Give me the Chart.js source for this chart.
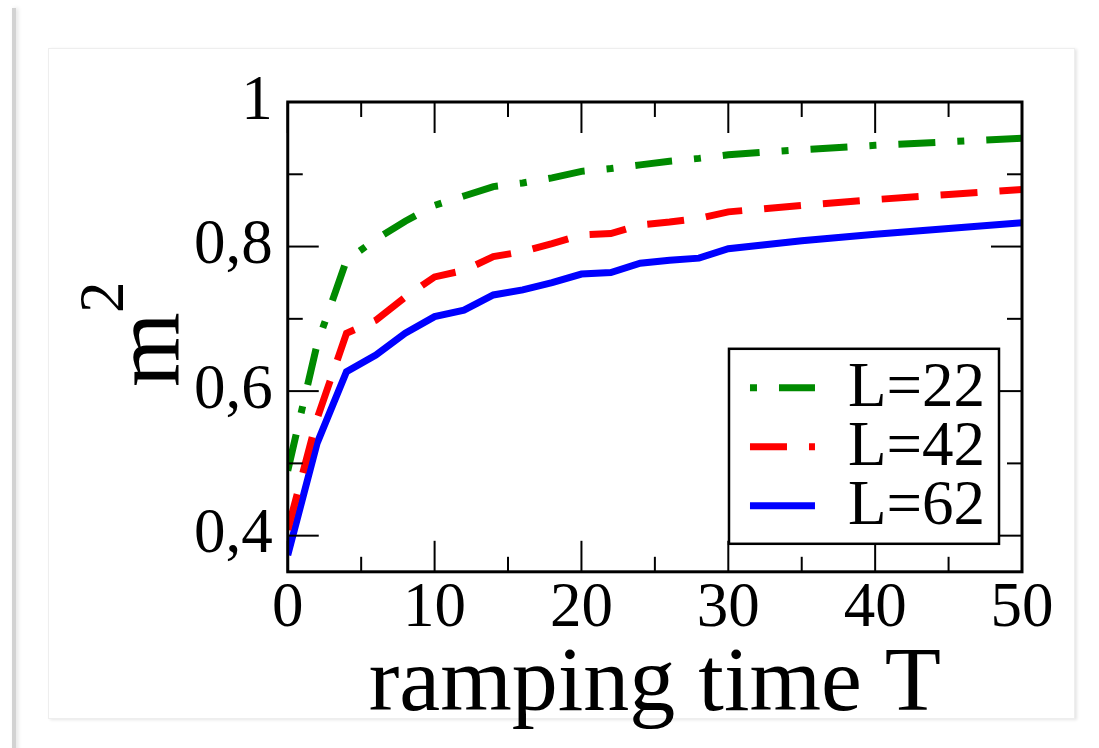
<!DOCTYPE html>
<html>
<head>
<meta charset="utf-8">
<script src="https://cdn.jsdelivr.net/npm/chart.js@4.4.1/dist/chart.umd.min.js"></script>
<style>
  html, body { margin: 0; padding: 0; background: #fff; }
  body { width: 1099px; height: 748px; position: relative; overflow: hidden; }
  #edge { position: absolute; left: 12px; top: 8px; width: 4px; height: 760px; background: #d2d2d2; box-shadow: 2px 0 4px rgba(0,0,0,0.12); }
  #card { position: absolute; left: 48px; top: 48px; width: 1025px; height: 669px; border: 1px solid #eeeeee; box-shadow: 2px 1px 3px rgba(0,0,0,0.10); background: #fff; }
  #wrap { position: absolute; left: 0; top: 0; width: 1099px; height: 748px; }
</style>
</head>
<body>
<div id="edge"></div>
<div id="card"></div>
<div id="wrap"><canvas id="chart" width="1099" height="748"></canvas></div>
<script>
const ramp_times = [0, 2, 4, 6, 8, 10, 12, 14, 16, 18, 20, 22, 24, 26, 28, 30, 35, 40, 45, 50];
const m2_L22 = [0.490, 0.665, 0.781, 0.810, 0.835, 0.857, 0.870, 0.883, 0.888, 0.895, 0.904, 0.908, 0.913, 0.918, 0.922, 0.927, 0.934, 0.940, 0.945, 0.950];
const m2_L42 = [0.408, 0.562, 0.680, 0.698, 0.730, 0.758, 0.767, 0.786, 0.793, 0.804, 0.816, 0.818, 0.830, 0.834, 0.839, 0.848, 0.857, 0.865, 0.872, 0.879];
const m2_L62 = [0.373, 0.528, 0.627, 0.650, 0.680, 0.703, 0.712, 0.733, 0.740, 0.750, 0.762, 0.764, 0.777, 0.781, 0.784, 0.797, 0.808, 0.817, 0.825, 0.833];

const series_labels = ["L=22", "L=42", "L=62"];
const x_ticks = [0, 10, 20, 30, 40, 50];
const x_minor = [5, 15, 25, 35, 45];
const y_ticks = [0.4, 0.6, 0.8, 1.0];
const y_minor = [0.5, 0.7, 0.9];

const serif = "'Liberation Serif', 'DejaVu Serif', serif";

function to_points(values){
    return ramp_times.map((t, i) => ({x: t, y: values[i]}));
}

function line_set(label, values, color, dash, dash_offset){
    return {
        label: label,
        data: to_points(values),
        borderColor: color,
        backgroundColor: color,
        borderWidth: 7,
        borderDash: dash,
        legendDashOffset: dash_offset,
        borderCapStyle: 'butt',
        borderJoinStyle: 'miter',
        pointRadius: 0,
        tension: 0,
        fill: false
    };
}

let datasets = {
    datasets: [
        line_set(series_labels[0], m2_L22, '#008a00', [37, 22, 7, 22], 59),
        line_set(series_labels[1], m2_L42, '#ff0000', [37, 22], 0),
        line_set(series_labels[2], m2_L62, '#0000ff', [], 0),
    ]
};

function draw_line(ctx, x1, y1, x2, y2){
    ctx.beginPath();
    ctx.moveTo(x1, y1);
    ctx.lineTo(x2, y2);
    ctx.stroke();
}

// frame, inward ticks on all sides, legend box and y title
const grace_frame = {
    id: 'grace_frame',
    afterDatasetsDraw(chart){
        const ctx = chart.ctx;
        const a = chart.chartArea;
        const xs = chart.scales.x;
        const ys = chart.scales.y;
        ctx.save();
        ctx.strokeStyle = '#000';
        ctx.lineWidth = 2;
        ctx.setLineDash([]);
        x_ticks.forEach(v => {
            const px = xs.getPixelForValue(v);
            draw_line(ctx, px, a.bottom, px, a.bottom - 31);
            draw_line(ctx, px, a.top, px, a.top + 31);
        });
        x_minor.forEach(v => {
            const px = xs.getPixelForValue(v);
            draw_line(ctx, px, a.bottom, px, a.bottom - 15);
            draw_line(ctx, px, a.top, px, a.top + 15);
        });
        y_ticks.forEach(v => {
            const py = ys.getPixelForValue(v);
            draw_line(ctx, a.left, py, a.left + 31, py);
            draw_line(ctx, a.right, py, a.right - 31, py);
        });
        y_minor.forEach(v => {
            const py = ys.getPixelForValue(v);
            draw_line(ctx, a.left, py, a.left + 15, py);
            draw_line(ctx, a.right, py, a.right - 15, py);
        });
        ctx.lineWidth = 3;
        ctx.strokeRect(a.left, a.top, a.right - a.left, a.bottom - a.top);

        // legend
        ctx.font = '63px ' + serif;
        const sets = chart.data.datasets;
        let text_w = 0;
        sets.forEach(ds => { text_w = Math.max(text_w, ctx.measureText(ds.label).width); });
        const row_h = 59;
        const box_w = 21 + 65 + 33 + text_w + 14;
        const box_h = 39 + row_h * (sets.length - 1) + 38;
        const bx = a.right - 23 - box_w;
        const by = a.bottom - 28 - box_h;
        ctx.fillStyle = '#fff';
        ctx.fillRect(bx, by, box_w, box_h);
        ctx.lineWidth = 2.5;
        ctx.strokeRect(bx, by, box_w, box_h);
        sets.forEach((ds, i) => {
            const cy = by + 39 + i * row_h;
            ctx.strokeStyle = ds.borderColor;
            ctx.lineWidth = 7;
            ctx.lineCap = 'butt';
            ctx.setLineDash(ds.borderDash);
            ctx.lineDashOffset = ds.legendDashOffset;
            draw_line(ctx, bx + 21, cy, bx + 21 + 65, cy);
            ctx.setLineDash([]);
            ctx.lineDashOffset = 0;
            ctx.fillStyle = '#000';
            ctx.textAlign = 'left';
            ctx.textBaseline = 'middle';
            ctx.fillText(ds.label, bx + 21 + 65 + 33, cy + 2);
        });

        // y axis title m^2
        ctx.translate(a.left - 110, (a.top + a.bottom) / 2 + 50);
        ctx.rotate(-Math.PI / 2);
        ctx.fillStyle = '#000';
        ctx.textAlign = 'left';
        ctx.textBaseline = 'alphabetic';
        ctx.font = '96px ' + serif;
        ctx.fillText('m', 0, 0);
        ctx.font = '63px ' + serif;
        ctx.fillText('2', 74, -55);
        ctx.restore();
    }
};

let options = {
    responsive: false,
    animation: false,
    devicePixelRatio: 1,
    layout: {
        padding: {left: 179, right: 77, top: 102, bottom: 23}
    },
    scales: {
        x: {
            type: 'linear',
            position: 'bottom',
            min: 0,
            max: 50,
            afterBuildTicks: s => { s.ticks = x_ticks.map(v => ({value: v})); },
            grid: {display: false, drawTicks: false},
            border: {display: false},
            ticks: {
                color: '#000',
                padding: 6,
                maxRotation: 0,
                autoSkip: false,
                font: {family: serif, size: 63, lineHeight: 1}
            },
            title: {
                display: true,
                text: 'ramping time T',
                color: '#000',
                padding: {top: 0, bottom: 0},
                font: {family: serif, size: 92, lineHeight: 0.85}
            }
        },
        y: {
            type: 'linear',
            min: 0.35,
            max: 1.0,
            afterBuildTicks: s => { s.ticks = y_ticks.map(v => ({value: v})); },
            grid: {display: false, drawTicks: false},
            border: {display: false},
            ticks: {
                color: '#000',
                padding: 15,
                font: {family: serif, size: 63, lineHeight: 1},
                callback: v => (v === 1 ? '1' : v.toFixed(1).replace('.', ','))
            }
        }
    },
    plugins: {
        legend: {display: false},
        tooltip: {enabled: false},
        title: {display: false}
    }
};

const ctx = document.getElementById("chart");
let chart = new Chart(ctx, {
    type: "line",
    data: datasets,
    options: options,
    plugins: [grace_frame]
});
</script>
</body>
</html>
